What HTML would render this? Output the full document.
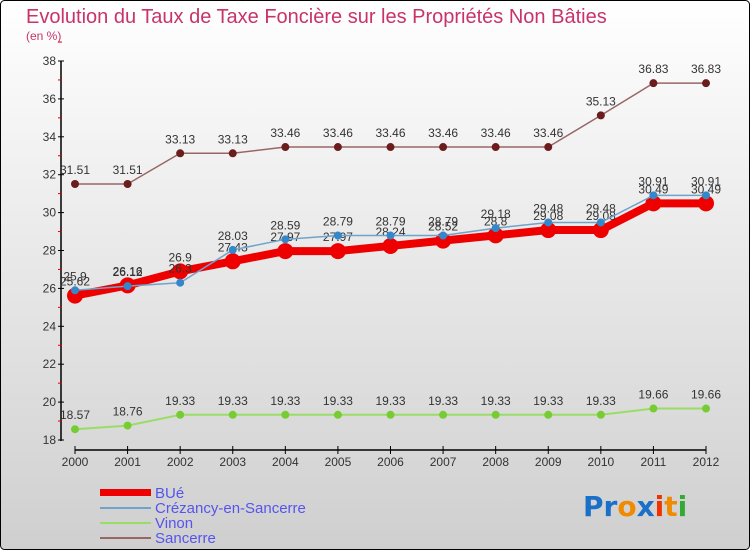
<!DOCTYPE html>
<html><head><meta charset="utf-8"><style>
html,body{margin:0;padding:0;}
body{width:750px;height:550px;overflow:hidden;font-family:"Liberation Sans",sans-serif;}
</style></head><body>
<svg width="750" height="550" xmlns="http://www.w3.org/2000/svg">
<defs><linearGradient id="bg" x1="0" y1="0" x2="0" y2="1"><stop offset="0" stop-color="#ffffff"/><stop offset="1" stop-color="#cfcfcf"/></linearGradient></defs>
<rect x="0.5" y="0.5" width="749" height="549" rx="4" fill="url(#bg)" stroke="#000"/>
<text x="26" y="23" font-size="20" fill="#c8336a">Evolution du Taux de Taxe Foncière sur les Propriétés Non Bâties</text>
<text x="26" y="40" font-size="12" fill="#c8336a">(en %)</text>
<g id="axes"></g>
<g id="series"></g>
<g id="legend" font-size="15">
<rect x="100" y="489" width="51" height="7" fill="#ee0000"/>
<text x="155" y="498" fill="#5555ee">BUé</text>
<rect x="100" y="507" width="51" height="2" fill="#6fa3cc"/>
<text x="155" y="513" fill="#5555ee">Crézancy-en-Sancerre</text>
<rect x="100" y="522" width="51" height="2" fill="#99dd66"/>
<text x="155" y="528" fill="#5555ee">Vinon</text>
<rect x="100" y="537" width="51" height="2" fill="#996666"/>
<text x="155" y="543" fill="#5555ee">Sancerre</text>
</g>
<g font-size="28" font-family="DejaVu Sans, sans-serif" font-weight="bold">
<text x="583" y="516"><tspan fill="#1a6fc8">Pr</tspan><tspan fill="#f08a00">o</tspan><tspan fill="#1a6fc8">x</tspan><tspan fill="#ee3300">i</tspan><tspan fill="#f08a00">t</tspan><tspan fill="#33aa33">i</tspan></text>
</g>
</svg>
<script>
const years=[2000,2001,2002,2003,2004,2005,2006,2007,2008,2009,2010,2011,2012];
const bue=[25.62,26.16,26.9,27.43,27.97,27.97,28.24,28.52,28.8,29.08,29.08,30.49,30.49];
const crezancy=[25.9,26.12,26.3,28.03,28.59,28.79,28.79,28.79,29.18,29.48,29.48,30.91,30.91];
const vinon=[18.57,18.76,19.33,19.33,19.33,19.33,19.33,19.33,19.33,19.33,19.33,19.66,19.66];
const sancerre=[31.51,31.51,33.13,33.13,33.46,33.46,33.46,33.46,33.46,33.46,35.13,36.83,36.83];
const yTicks=[18,20,22,24,26,28,30,32,34,36,38];
const NS='http://www.w3.org/2000/svg';
const X=i=>75+i*(706-75)/(years.length-1);
const Y=v=>440-(v-18)*(440-61)/20;
function mk(t,a,p){const e=document.createElementNS(NS,t);for(const k in a)e.setAttribute(k,a[k]);p.appendChild(e);return e;}
const ax=document.getElementById('axes');
let l=mk('line',{x1:61,y1:61,x2:61,y2:441,stroke:'#000','stroke-width':1.5},ax);


yTicks.forEach(v=>{
  mk('line',{x1:58,y1:Y(v),x2:64,y2:Y(v),stroke:'#000'},ax);
  mk('line',{x1:58,y1:Y(v+1),x2:62,y2:Y(v+1),stroke:'#d00'},ax);
  const t=mk('text',{x:56,y:Y(v)+4,'text-anchor':'end','font-size':12,fill:'#333'},ax);
  
  
  t.textContent=v;
});
l=mk('line',{x1:75,y1:450,x2:706,y2:450,stroke:'#000','stroke-width':1.5},ax);


years.forEach((y,i)=>{
  mk('line',{x1:X(i),y1:446,x2:X(i),y2:454,stroke:'#000'},ax);
  const t=mk('text',{x:X(i),y:466,'text-anchor':'middle','font-size':12,fill:'#333'},ax);
  
  
  t.textContent=y;
});
const sg=document.getElementById('series');
function series(name,data,color,w,r,dot){
  const g=mk('g',{},sg);
  
  
  const p=mk('polyline',{points:data.map((v,i)=>X(i)+','+Y(v)).join(' '),fill:'none',stroke:color,'stroke-width':w,'stroke-linejoin':'round'},g);
  
  
  data.forEach((v,i)=>{
    const c=mk('circle',{cx:X(i),cy:Y(v),r:r,fill:dot},g);
    
    
    const t=mk('text',{x:X(i),y:Y(v)-10,'text-anchor':'middle','font-size':12,fill:'#333'},g);
    
    
    t.textContent=v;
  });
}
series('sancerre',sancerre,'#996666',1.5,4,'#6b1c1c');
series('vinon',vinon,'#99dd66',2,4,'#77cc33');
series('bue',bue,'#ee0000',8,8,'#ee0000');
series('crezancy',crezancy,'#6fa3cc',1.5,4,'#3388cc');
</script>
</body></html>
